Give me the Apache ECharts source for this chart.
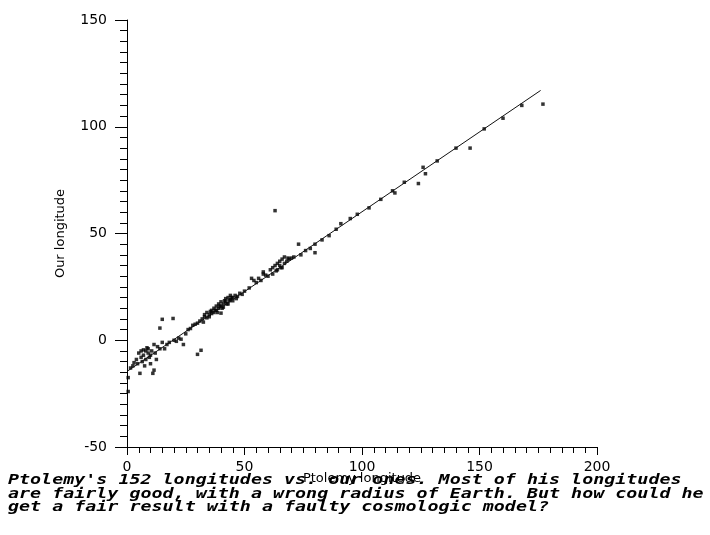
<!DOCTYPE html>
<html>
<head>
<meta charset="utf-8">
<script src="https://cdn.jsdelivr.net/npm/echarts@6/dist/echarts.min.js"></script>
<style>
  html, body { margin: 0; padding: 0; background: #fff; }
  #echart1 { width: 710px; height: 535px; }
</style>
</head>
<body>
<div id="echart1"></div>
<script>
// Ptolemy longitude (x) vs our longitude (y)
var ptolemyLon = [0.5,0.5,1.5,2.5,3,4,4.5,5,5.5,6,6,6.5,7,7,7.5,8,8,8.5,9,9,9.5,10,10,10.5,11,11.5,11.5,12,12.5,13,
  14,14,15,15,16,17,18,19.6,20,21,22,23,24,25,26,27,28,29,30,31.5,30,
  31,32,32.5,33,33,34,34,35,35,35.5,36,36,37,37,37.5,38,38,38.5,39,39,39.5,40,40,40,40.5,41,41,41.5,42,42,42.5,
  43,43,43.5,44,44,44.5,45,45,46,46.5,47,48,49,
  50,52,53,54,55,56,57,58,58,59,60,61,62,62,63,63,63.5,64,64,65,65,65.5,66,66,67,67,68,68.5,69,70,71,
  73,74,76,78,80,80,83,86,89,91,95,98,
  103,108,113,114,118,124,126,127,132,140,146,152,160,168,177];
var ourLon = [-17.5,-24,-13,-12,-10.5,-9,-11,-6,-15.5,-5,-8,-10,-4.5,-7,-12,-5,-9,-3.5,-6,-4,-8,-11,-7,-5,-15.5,-2,-14,-6,-9,-3,
  5.7,-4,9.8,-1,-4,-2,-1,10.2,0,-0.5,1,0.5,-2,3,5,5.5,7,7.5,-6.6,-4.7,8,
  9,10,8.5,11,12,10.5,13,12,11,13.5,14,12.5,13,15,14,14,16,13,15,17,16,12.7,16,18,15,17,15.5,18.5,18,19.5,17,
  17,20,18.5,19,21,20,20,18.5,21,19.5,20.5,22,21.5,
  23,24.5,29,28,27,29,28,31,32,30.5,30,33,31,34,60.7,35,32.5,33,36,35,37,34,34,38,36,39,37,38.5,38,38.5,39,
  45,40,42,43,41,45,47,49,52,54.6,57,59,
  62,66,70,69,74,73.4,81,78,84,90,90,99,104,110,110.6];
// fitted line, end points
var fitX = [0, 176];
var fitY = [-14.6, 117];
var xTicks = [0, 50, 100, 150, 200];
var yTicks = [-50, 0, 50, 100, 150];
var captionLines = [
  "Ptolemy's 152 longitudes vs. our ones. Most of his longitudes",
  "are fairly good, with a wrong radius of Earth. But how could he",
  "get a fair result with a faulty cosmologic model?"
];

var pts = [];
for (var i = 0; i < ptolemyLon.length; i++) {
  pts.push([ptolemyLon[i], ourLon[i]]);
}
var fit = [];
for (var j = 0; j < fitX.length; j++) {
  fit.push([fitX[j], fitY[j]]);
}

var labelFont = { color: '#000', fontFamily: 'DejaVu Sans', fontSize: 14 };

var chart1 = echarts.init(document.getElementById('echart1'), null, { renderer: 'canvas' });
var option1 = {
  animation: false,
  backgroundColor: '#fff',
  grid: { left: 127, right: 113, top: 20, bottom: 88 },
  xAxis: {
    type: 'value',
    min: xTicks[0], max: xTicks[xTicks.length - 1], interval: 50,
    name: 'Ptolemy longitude',
    nameLocation: 'middle',
    nameGap: 25,
    nameMoveOverlap: false,
    nameTextStyle: { color: '#000', fontFamily: 'DejaVu Sans', fontSize: 13 },
    axisLine: { onZero: false, lineStyle: { color: '#000', width: 1 } },
    axisTick: { inside: false, length: 8, lineStyle: { color: '#000' } },
    minorTick: { show: true, splitNumber: 10, length: 6, lineStyle: { color: '#000' } },
    axisLabel: { margin: 13, color: labelFont.color, fontFamily: labelFont.fontFamily, fontSize: labelFont.fontSize },
    splitLine: { show: false }
  },
  yAxis: {
    type: 'value',
    min: yTicks[0], max: yTicks[yTicks.length - 1], interval: 50,
    name: 'Our longitude',
    nameLocation: 'middle',
    nameRotate: 90,
    nameGap: 60,
    nameMoveOverlap: false,
    nameTextStyle: { color: '#000', fontFamily: 'DejaVu Sans', fontSize: 13 },
    axisLine: { onZero: false, lineStyle: { color: '#000', width: 1 } },
    axisTick: { inside: false, length: 12, lineStyle: { color: '#000' } },
    minorTick: { show: true, splitNumber: 10, length: 7, lineStyle: { color: '#000' } },
    axisLabel: { margin: 20, color: labelFont.color, fontFamily: labelFont.fontFamily, fontSize: labelFont.fontSize },
    splitLine: { show: false }
  },
  series: [
    {
      name: 'points',
      type: 'scatter',
      data: pts,
      symbol: 'rect',
      symbolSize: 3.5,
      itemStyle: { color: '#000' }
    },
    {
      name: 'fit',
      type: 'line',
      data: fit,
      showSymbol: false,
      lineStyle: { color: '#111', width: 1 },
      z: 3
    }
  ],
  graphic: [
    {
      type: 'text',
      x: 8,
      y: 474,
      scaleX: 1.31,
      z: 10,
      style: {
        text: captionLines.join('\n'),
        font: 'italic bold 14px "DejaVu Sans Mono"',
        fill: '#000',
        lineHeight: 13.5,
        verticalAlign: 'top'
      }
    }
  ]
};
chart1.setOption(option1);
</script>
</body>
</html>
